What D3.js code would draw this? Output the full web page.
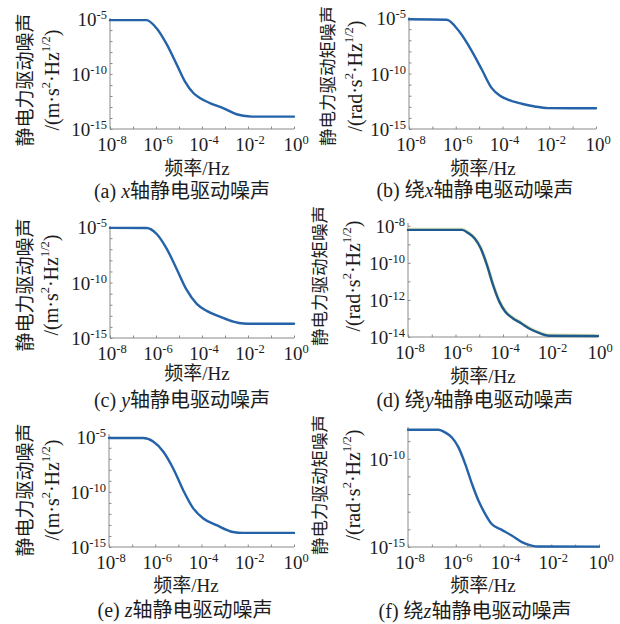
<!DOCTYPE html>
<html>
<head>
<meta charset="utf-8">
<script src="https://cdn.jsdelivr.net/npm/d3@7"></script>
<style>
  html, body { margin: 0; padding: 0; background: #fff; }
  svg { display: block; }
</style>
</head>
<body>
<svg id="fig" width="620" height="624"></svg>
<script>
// ---- tick values ----
const freqTicks = [1e-8, 1e-6, 1e-4, 1e-2, 1];
const freqMinorTicks = [1e-7, 1e-5, 1e-3, 1e-1];
const forceTicks = [1e-15, 1e-10, 1e-5];
const torqueYTicks = [1e-14, 1e-12, 1e-10, 1e-8];
const torqueZTicks = [1e-15, 1e-10];

// ---- noise spectra (frequency in Hz, amplitude spectral density) ----
// (a) x-axis electrostatic actuation noise, m·s^-2·Hz^-1/2
const freqA  = [1e-8, 3.9e-7, 1.1e-6, 2.9e-6, 7.9e-6, 1.8e-5, 4.2e-5, 8.1e-5, 2.2e-4, 8.3e-4, 3.2e-3, 6.2e-3, 1.5e-2, 1];
const noiseA = [8e-6, 8e-6, 1.3e-6, 5.2e-8, 7.6e-10, 2.2e-11, 1.9e-12, 6.6e-13, 2.3e-13, 7.9e-14, 2.2e-14, 1.6e-14, 1.35e-14, 1.35e-14];
// (b) rotation about x, rad·s^-2·Hz^-1/2
const freqB  = [1e-8, 4.1e-7, 1.5e-6, 4.8e-6, 1.3e-5, 3.4e-5, 7.8e-5, 1.7e-4, 6.6e-4, 2.4e-3, 8.9e-3, 1];
const noiseB = [8e-6, 7.2e-6, 5.2e-7, 1.1e-8, 2.3e-10, 5.1e-12, 1e-12, 4.4e-13, 1.9e-13, 1.07e-13, 7.6e-14, 7.4e-14];
// (c) y-axis
const freqC  = [1e-8, 3.9e-7, 1.07e-6, 2.9e-6, 7.9e-6, 2.1e-5, 5.9e-5, 1.6e-4, 6e-4, 2.3e-3, 6.3e-3, 1.5e-2, 1];
const noiseC = [8.5e-6, 8.3e-6, 2.4e-6, 1.15e-7, 1.7e-9, 2.4e-11, 1.2e-12, 2.8e-13, 8.5e-14, 3e-14, 2e-14, 1.9e-14, 1.9e-14];
// (d) rotation about y
const freqD  = [1e-8, 1.9e-6, 3.5e-6, 6.3e-6, 1.15e-5, 2.1e-5, 3.8e-5, 7e-5, 1.25e-4, 2.4e-4, 5.8e-4, 1.4e-3, 3.5e-3, 8.5e-3, 1];
const noiseD = [6e-9, 6e-9, 4e-9, 2.1e-9, 6.2e-10, 7.8e-11, 6.5e-12, 8.1e-13, 2.3e-13, 1.1e-13, 5.5e-14, 2.7e-14, 1.6e-14, 1.17e-14, 1.12e-14];
// (e) z-axis
const freqE  = [1e-8, 3e-7, 8.1e-7, 2.2e-6, 5.9e-6, 1.6e-5, 4.4e-5, 1.2e-4, 4.5e-4, 2.3e-3, 6.3e-3, 1];
const noiseE = [7.6e-6, 7.6e-6, 3.7e-6, 4.6e-7, 1.4e-8, 1.5e-10, 3.2e-12, 3.9e-13, 9.5e-14, 2.3e-14, 1.9e-14, 1.9e-14];
// (f) rotation about z
const freqF  = [1e-8, 1.9e-7, 3.6e-7, 6.9e-7, 1.3e-6, 2.5e-6, 4.8e-6, 8.9e-6, 1.7e-5, 3.2e-5, 8.5e-5, 2.2e-4, 5.9e-4, 1.5e-3, 2.9e-3, 1];
const noiseF = [4.4e-9, 4.4e-9, 3.1e-9, 1.6e-9, 4.4e-10, 5e-11, 3.7e-12, 4.3e-13, 7.6e-14, 2e-14, 9.3e-15, 4.5e-15, 1.9e-15, 1.2e-15, 1.07e-15, 1.05e-15];

// ---- text ----
const panelLetters = ['(a)', '(b)', '(c)', '(d)', '(e)', '(f)'];
const axisNames = ['x', 'x', 'y', 'y', 'z', 'z'];
const captionPrefix = ['', '绕', '', '绕', '', '绕'];
const captionSuffix = '轴静电驱动噪声';
const yTitles = ['静电力驱动噪声', '静电力驱动矩噪声', '静电力驱动噪声', '静电力驱动矩噪声', '静电力驱动噪声', '静电力驱动矩噪声'];
const yUnits = ['m', 'rad', 'm', 'rad', 'm', 'rad'];
const xTitle = '频率/Hz';

// ---- layout of the six panels ----
const panels = [
  { freq: freqA, noise: noiseA, yTicks: forceTicks, left: 110, right: 294, top: 18, bottom: 129, yMin: 1e-15, yMax: 10 ** -4.9,
    titleX: [25, 52], titleY: 80, titleSize: 19, xTitleX: 197, xTitleY: 175, capX: 182, capY: 198 },
  { freq: freqB, noise: noiseB, yTicks: forceTicks, left: 409, right: 596, top: 17, bottom: 129, yMin: 1e-15, yMax: 10 ** -4.9,
    titleX: [328, 355], titleY: 76, titleSize: 17.5, xTitleX: 483, xTitleY: 175, capX: 475, capY: 197 },
  { freq: freqC, noise: noiseC, yTicks: forceTicks, left: 110, right: 294, top: 226, bottom: 338, yMin: 1e-15, yMax: 10 ** -4.9,
    titleX: [25, 51], titleY: 285, titleSize: 19, xTitleX: 197, xTitleY: 380, capX: 182, capY: 407 },
  { freq: freqD, noise: noiseD, yTicks: torqueYTicks, left: 408, right: 598, top: 223, bottom: 337, yMin: 1e-14, yMax: 10 ** -7.85,
    titleX: [320, 353], titleY: 276, titleSize: 17.5, xTitleX: 483, xTitleY: 383, capX: 475, capY: 407, halo: true },
  { freq: freqE, noise: noiseE, yTicks: forceTicks, left: 109, right: 294, top: 434, bottom: 547, yMin: 1e-15, yMax: 10 ** -4.75,
    titleX: [25, 52], titleY: 490, titleSize: 19, xTitleX: 186, xTitleY: 592, capX: 185, capY: 617 },
  { freq: freqF, noise: noiseF, yTicks: torqueZTicks, left: 408, right: 599, top: 427, bottom: 547, yMin: 1e-15, yMax: 10 ** -8.2,
    titleX: [320, 353], titleY: 485, titleSize: 17.5, xTitleX: 483, xTitleY: 592, capX: 475, capY: 618 }
];

const SERIF = '"Liberation Serif", "Times New Roman", "Noto Sans CJK SC", serif';
const INK = '#1c1c1c';
const AXIS = '#8a8a8a';
const LINE = '#2463a8';

const svg = d3.select('#fig');
svg.append('rect').attr('width', 620).attr('height', 624).attr('fill', '#fff');

// writes text runs, raising the ones marked as superscript
function rich(text, parts, supSize, rise) {
  parts.forEach((p, i) => {
    const ts = text.append('tspan').text(p.t);
    if (p.italic) ts.attr('font-style', 'italic');
    if (p.sup) ts.attr('font-size', supSize).attr('dy', -rise);
    else if (i > 0 && parts[i - 1].sup) ts.attr('dy', rise);
  });
  return text;
}

function powerLabel(v) {
  return [{ t: '10' }, { t: String(Math.round(Math.log10(v))), sup: true }];
}

function decadesBetween(lo, hi) {
  const out = [];
  for (let e = Math.ceil(Math.log10(lo) - 1e-9); e <= Math.floor(Math.log10(hi) + 1e-9); e++) out.push(10 ** e);
  return out;
}

panels.forEach((p, i) => {
  const g = svg.append('g');
  const x = d3.scaleLog().domain([1e-8, 1]).range([p.left, p.right]);
  const y = d3.scaleLog().domain([p.yMin, p.yMax]).range([p.bottom, p.top]);

  // minor ticks (every decade) on the left axis
  const yMinor = decadesBetween(p.yMin, p.yMax);
  g.append('g').attr('transform', `translate(${p.left},0)`)
    .call(d3.axisLeft(y).tickValues(yMinor).tickSize(-2.5).tickSizeOuter(0).tickFormat(''))
    .call(a => a.select('.domain').remove())
    .call(a => a.selectAll('line').attr('stroke', AXIS));
  // bottom axis ticks
  g.append('g').attr('transform', `translate(0,${p.bottom})`)
    .call(d3.axisBottom(x).tickValues(freqTicks.concat(freqMinorTicks)).tickSize(-2.5).tickSizeOuter(0).tickFormat(''))
    .call(a => a.select('.domain').remove())
    .call(a => a.selectAll('line').attr('stroke', AXIS));

  // axis lines
  g.append('line').attr('x1', p.left).attr('x2', p.left).attr('y1', p.top).attr('y2', p.bottom)
    .attr('stroke', AXIS).attr('stroke-width', 1);
  g.append('line').attr('x1', p.left).attr('x2', p.right).attr('y1', p.bottom).attr('y2', p.bottom)
    .attr('stroke', AXIS).attr('stroke-width', 1);

  // y tick labels
  p.yTicks.forEach(v => {
    rich(g.append('text').attr('x', p.left - 3).attr('y', y(v) + 7)
      .attr('text-anchor', 'end').attr('font-family', SERIF).attr('font-size', 19).attr('fill', INK),
      powerLabel(v), 12.5, 7);
  });
  // x tick labels
  freqTicks.forEach(v => {
    rich(g.append('text').attr('x', x(v) + 2).attr('y', p.bottom + 22)
      .attr('text-anchor', 'middle').attr('font-family', SERIF).attr('font-size', 19).attr('fill', INK),
      powerLabel(v), 12.5, 7);
  });

  // spectrum curve
  const pts = p.freq.map((f, k) => ({ f, v: p.noise[k] }));
  const line = d3.line().x(d => x(d.f)).y(d => y(d.v)).curve(d3.curveMonotoneX);
  if (p.halo) {
    g.append('path').attr('d', line(pts)).attr('fill', 'none')
      .attr('stroke', '#e6e8b4').attr('stroke-width', 3.6).attr('opacity', 0.8).attr('transform', 'translate(0,-0.6)');
  }
  g.append('path').attr('d', line(pts)).attr('fill', 'none')
    .attr('stroke', p.halo ? '#1f5a8c' : LINE).attr('stroke-width', 2.4)
    .attr('stroke-linejoin', 'round').attr('stroke-linecap', 'round');

  // y-axis title: quantity name and unit, rotated
  g.append('text')
    .attr('transform', `translate(${p.titleX[0]},${p.titleY}) rotate(-90)`)
    .attr('text-anchor', 'middle').attr('dominant-baseline', 'central')
    .attr('font-family', SERIF).attr('font-size', p.titleSize).attr('fill', INK)
    .text(yTitles[i]);
  rich(g.append('text')
    .attr('transform', `translate(${p.titleX[1]},${p.titleY}) rotate(-90)`)
    .attr('text-anchor', 'middle').attr('dominant-baseline', 'central')
    .attr('font-family', SERIF).attr('font-size', 20).attr('fill', INK),
    [{ t: '/(' + yUnits[i] + '·s' }, { t: '2', sup: true }, { t: '·Hz' }, { t: '1/2', sup: true }, { t: ')' }], 12.5, 6.5);

  // x-axis title
  g.append('text').attr('x', p.xTitleX).attr('y', p.xTitleY)
    .attr('text-anchor', 'middle').attr('font-family', SERIF).attr('font-size', 19).attr('fill', INK)
    .text(xTitle);

  // panel caption
  rich(g.append('text').attr('x', p.capX).attr('y', p.capY)
    .attr('text-anchor', 'middle').attr('font-family', SERIF).attr('font-size', 20).attr('fill', INK),
    [{ t: panelLetters[i] + ' ' + captionPrefix[i] }, { t: axisNames[i], italic: true }, { t: captionSuffix }], 12, 0);
});
</script>
</body>
</html>
